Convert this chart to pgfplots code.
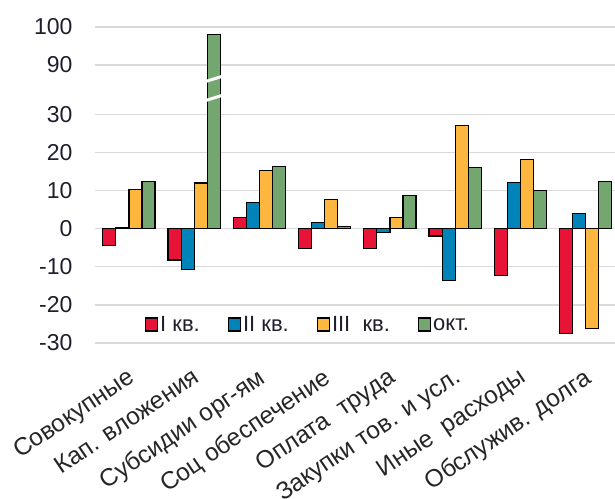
\documentclass[border=0pt]{standalone}
\usepackage{pgfplots}
\pgfplotsset{compat=1.18}
\usepackage{pgfplotstable}
\usepackage{fontspec}
\setmainfont{Liberation Sans}
\definecolor{cI}{RGB}{232,20,55}
\definecolor{cII}{RGB}{0,131,184}
\definecolor{cIII}{RGB}{253,183,63}
\definecolor{cIV}{RGB}{116,166,111}
\definecolor{gridc}{RGB}{217,217,217}
\definecolor{txt}{RGB}{30,30,45}

% values; the axis is broken between 30 and 90 (values above 60 are drawn 47 lower)
\pgfplotstableread{
x I II III IV
0 -4.4 0.4 10.4 12.5
1 -8.2 -10.7 12.0 98
2 2.9 6.8 15.4 16.4
3 -5.2 1.7 7.6 0.5
4 -5.2 -1.0 2.9 8.7
5 -1.9 -13.6 27.1 16.1
6 -12.2 12.1 18.3 10.1
7 -27.5 4.0 -26.2 12.5
}\data

\begin{document}
\begin{tikzpicture}
\begin{axis}[
  scale only axis, width=520pt, height=316pt,
  xmin=-0.52, xmax=7.45, ymin=-30, ymax=53,
  ybar=0pt, bar width=0.2,
  axis line style={draw=none}, major tick length=0pt,
  ymajorgrids, grid style={gridc, line width=1.2pt},
  ytick={-30,-20,-10,0,10,20,30,43,53},
  yticklabels={-30,-20,-10,0,10,20,30,90,100},
  yticklabel style={font=\fontsize{23}{26}\selectfont, text=txt, xshift=-19pt},
  xtick={0,...,7},
  xticklabels={Совокупные, Кап. вложения, Субсидии орг-ям, Соц обеспечение, Оплата\ \ труда, Закупки тов. и усл., Иные\ \ расходы, Обслужив. долга},
  xticklabel style={xshift=-2pt, yshift=-19pt, rotate=34, anchor=north east, font=\fontsize{24.5}{28}\selectfont, text=black!85},
  y filter/.expression={y>60 ? y-47 : y},
  legend columns=4,
  legend style={draw=none, fill=none, at={(0.09,0.057)}, anchor=west,
    font=\fontsize{22}{26}\selectfont, text=txt,
    /tikz/every even column/.append style={column sep=26pt}},
  legend image code/.code={\draw[#1, draw=black, line width=1.2pt] (0pt,-6pt) rectangle (12pt,7pt);},
  every axis plot/.append style={draw=black, line width=1.2pt},
]
\addplot[fill=cI] table[x=x, y=I] {\data};
\addplot[fill=cII] table[x=x, y=II] {\data};
\addplot[fill=cIII] table[x=x, y=III] {\data};
\addplot[fill=cIV] table[x=x, y=IV] {\data};
\legend{I кв., II кв., III\ \ кв., окт.}
\draw[white, line width=3pt] (axis cs:1.16,38.6) -- (axis cs:1.44,40.1);
\draw[white, line width=3pt] (axis cs:1.16,33.6) -- (axis cs:1.44,35.1);
\end{axis}
\pgfresetboundingbox
\useasboundingbox ([shift={(-95pt,-156pt)}]current axis.south west) rectangle ([shift={(0pt,27pt)}]current axis.north east);
\end{tikzpicture}
\end{document}
